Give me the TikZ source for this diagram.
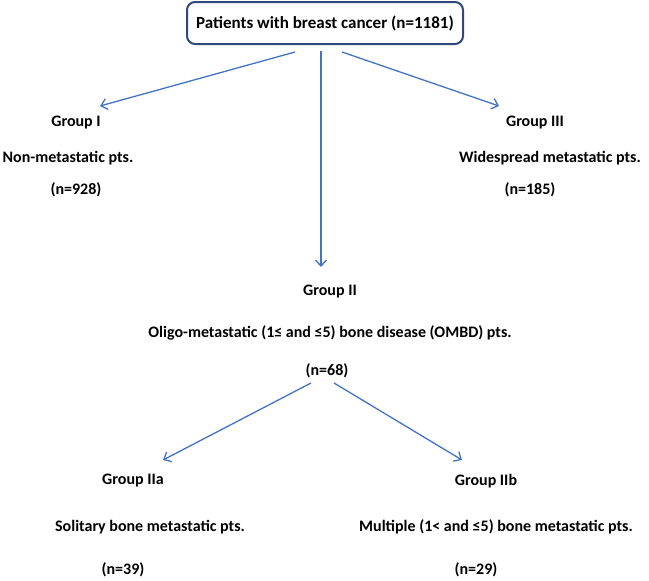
\documentclass[tikz,border=0pt]{standalone}
\usepackage{fontspec}
\setmainfont{Carlito}
\usetikzlibrary{arrows.meta}
\definecolor{arrowblue}{HTML}{4472C4}
\definecolor{boxnavy}{HTML}{2F4A78}
\begin{document}
\begin{tikzpicture}[x=1pt,y=-1pt,
  lbl/.style={font=\fontsize{16}{19}\selectfont\bfseries, inner sep=0pt, anchor=center},
  topbox/.style={draw=boxnavy, line width=2pt, rounded corners=8pt, minimum width=276pt, minimum height=42pt, font=\fontsize{17}{20}\selectfont\bfseries},
  conn/.style={draw=arrowblue, line width=1.3pt, -{Straight Barb[length=6pt,width=11pt,line width=1.3pt]}}]
\useasboundingbox (0,0) rectangle (649,581);
\node[topbox] (top) at (325,23) {Patients with breast cancer (n=1181)};
% Group I
\node[lbl] (g1) at (76,123) {Group I};
\node[lbl] (g1d) at (68,158) {Non-metastatic pts.};
\node[lbl] (g1n) at (76,190) {(n=928)};
% Group III
\node[lbl] (g3) at (535,123) {Group III};
\node[lbl] (g3d) at (550,158) {Widespread metastatic pts.};
\node[lbl] (g3n) at (530,190) {(n=185)};
% Group II
\node[lbl] (g2) at (330,292) {Group II};
\node[lbl] (g2d) at (330,333) {Oligo-metastatic (1≤ and ≤5) bone disease (OMBD) pts.};
\node[lbl] (g2n) at (327,371) {(n=68)};
% Group IIa
\node[lbl] (g2a) at (133,481) {Group IIa};
\node[lbl] (g2ad) at (150,527) {Solitary bone metastatic pts.};
\node[lbl] (g2an) at (123,570) {(n=39)};
% Group IIb
\node[lbl] (g2b) at (486,481) {Group IIb};
\node[lbl] (g2bd) at (496,527) {Multiple (1< and ≤5) bone metastatic pts.};
\node[lbl] (g2bn) at (476,570) {(n=29)};
% connector end points
\coordinate (sL) at (295,52);
\coordinate (sM) at (321,51);
\coordinate (sR) at (342,52);
\coordinate (eL) at (100,106);
\coordinate (eM) at (321,267);
\coordinate (eR) at (499,106);
\coordinate (bL) at (311,383);
\coordinate (bR) at (334,383);
\coordinate (eaL) at (163,460);
\coordinate (eaR) at (462,460);
\draw[conn] (sL) -- (eL);
\draw[conn] (sM) -- (eM);
\draw[conn] (sR) -- (eR);
\draw[conn] (bL) -- (eaL);
\draw[conn] (bR) -- (eaR);
\end{tikzpicture}
\end{document}
